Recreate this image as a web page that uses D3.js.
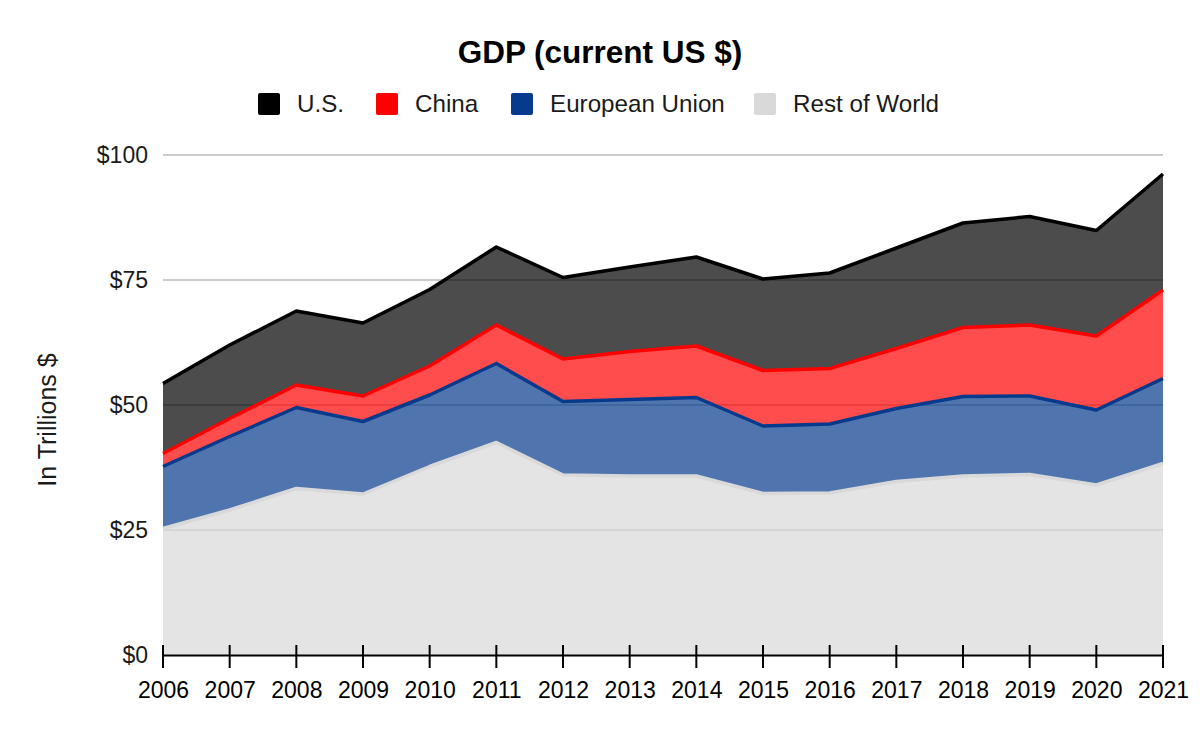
<!DOCTYPE html>
<html>
<head>
<meta charset="utf-8">
<script src="https://cdn.jsdelivr.net/npm/d3@7"></script>
<style>
  html, body { margin: 0; padding: 0; background: #fff; }
  svg { display: block; font-family: "Liberation Sans", Arial, sans-serif; }
</style>
</head>
<body>
<svg id="chart" width="1200" height="742"></svg>
<script>
const years = [2006, 2007, 2008, 2009, 2010, 2011, 2012, 2013, 2014, 2015, 2016, 2017, 2018, 2019, 2020, 2021];
const restOfWorld = [25.3, 29.0, 33.3, 32.2, 37.7, 42.5, 36.0, 35.8, 35.8, 32.3, 32.4, 34.7, 35.8, 36.1, 34.0, 38.3];
const europeanUnion = [12.4, 14.7, 16.2, 14.5, 14.3, 15.8, 14.7, 15.3, 15.7, 13.5, 13.8, 14.6, 15.9, 15.7, 15.0, 17.0];
const china = [2.6, 3.6, 4.5, 5.1, 5.8, 7.7, 8.5, 9.6, 10.3, 11.1, 11.1, 12.0, 13.8, 14.2, 14.8, 17.7];
const us = [14.0, 14.7, 14.8, 14.6, 15.3, 15.6, 16.3, 16.9, 17.8, 18.3, 19.1, 20.1, 20.9, 21.7, 21.1, 23.2];
const yTicks = [0, 25, 50, 75, 100];
const seriesNames = ["Rest of World", "European Union", "China", "U.S."];
const legendOrder = ["U.S.", "China", "European Union", "Rest of World"];
const titleText = "GDP (current US $)";
const yAxisTitle = "In Trillions $";

const colors = {
  "U.S.": "#000000",
  "China": "#ff0000",
  "European Union": "#063a8c",
  "Rest of World": "#d9d9d9"
};

const rows = years.map((yr, i) => ({
  year: yr,
  "Rest of World": restOfWorld[i],
  "European Union": europeanUnion[i],
  "China": china[i],
  "U.S.": us[i]
}));

const svg = d3.select("#chart");
const plotLeft = 163, plotRight = 1163, plotTop = 155, plotBottom = 655;

const x = d3.scaleLinear().domain([years[0], years[years.length - 1]]).range([plotLeft, plotRight]);
const y = d3.scaleLinear().domain([0, 100]).range([plotBottom, plotTop]);

// Title
svg.append("text")
  .attr("x", 600).attr("y", 63)
  .attr("text-anchor", "middle")
  .attr("font-size", 31.5).attr("font-weight", "bold")
  .attr("fill", "#000")
  .text(titleText);

// Legend
const legendX = { "U.S.": 258, "China": 376, "European Union": 511, "Rest of World": 754 };
const lg = svg.append("g");
legendOrder.forEach(name => {
  const g = lg.append("g").attr("transform", `translate(${legendX[name]},93)`);
  g.append("rect").attr("width", 22).attr("height", 22).attr("rx", 2)
    .attr("fill", colors[name]);
  g.append("text").attr("x", 39).attr("y", 19)
    .attr("font-size", 24.2).attr("fill", "#1a1a1a").text(name);
});

// Gridlines
svg.append("g").selectAll("line").data(yTicks.filter(d => d > 0)).join("line")
  .attr("x1", plotLeft).attr("x2", plotRight)
  .attr("y1", d => y(d)).attr("y2", d => y(d))
  .attr("stroke", "#cccccc").attr("stroke-width", 2);

// Y tick labels
svg.append("g").selectAll("text").data(yTicks).join("text")
  .attr("x", 148).attr("y", d => y(d))
  .attr("dy", "0.36em")
  .attr("text-anchor", "end")
  .attr("font-size", 23).attr("fill", "#1a1a1a")
  .text(d => "$" + d);

// Y axis title
svg.append("text")
  .attr("transform", `translate(56,420) rotate(-90)`)
  .attr("text-anchor", "middle")
  .attr("font-size", 25).attr("fill", "#1a1a1a")
  .text(yAxisTitle);

// Stacked areas
const stack = d3.stack().keys(seriesNames);
const layers = stack(rows);

const area = d3.area()
  .x(d => x(d.data.year))
  .y0(d => y(d[0]))
  .y1(d => y(d[1]));

const line = d3.line()
  .x(d => x(d.data.year))
  .y(d => y(d[1]));

svg.append("g").selectAll("path").data(layers).join("path")
  .attr("d", area)
  .attr("fill", d => colors[d.key])
  .attr("fill-opacity", 0.7);

svg.append("g").selectAll("path").data(layers).join("path")
  .attr("d", line)
  .attr("fill", "none")
  .attr("stroke", d => colors[d.key])
  .attr("stroke-width", 3.5)
  .attr("stroke-linejoin", "round");

// X axis
const xAxis = d3.axisBottom(x)
  .tickValues(years)
  .tickFormat(d3.format("d"))
  .tickSizeOuter(0)
  .tickSize(0);
const xg = svg.append("g").attr("transform", `translate(0,${plotBottom})`).call(xAxis);
xg.select(".domain").attr("stroke", "#000").attr("stroke-width", 2);
xg.selectAll(".tick line").remove();
xg.selectAll(".tick text")
  .attr("y", 43).attr("dy", 0)
  .attr("font-size", 23).attr("fill", "#000")
  .attr("font-family", "\"Liberation Sans\", Arial, sans-serif");

svg.append("g").selectAll("line").data(years).join("line")
  .attr("x1", d => x(d)).attr("x2", d => x(d))
  .attr("y1", plotBottom - 10).attr("y2", plotBottom + 13)
  .attr("stroke", "#000").attr("stroke-width", 2);
</script>
</body>
</html>
